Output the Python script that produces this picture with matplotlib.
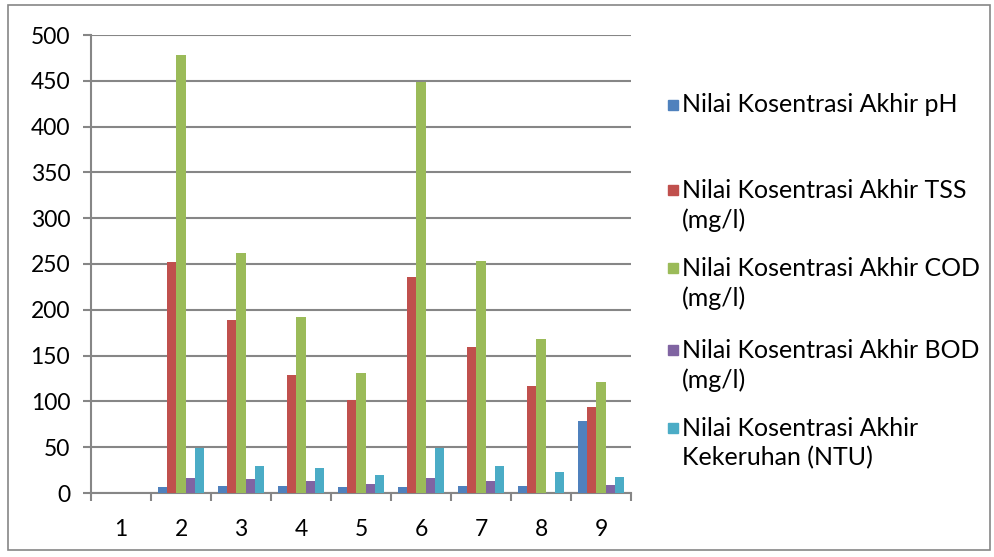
import numpy as np
import matplotlib.pyplot as plt
from matplotlib.patches import Rectangle

plt.rcParams['font.family'] = ['Lato', 'DejaVu Sans']

# Data
categories = ['1', '2', '3', '4', '5', '6', '7', '8', '9']
ph = [0, 7, 8, 8, 7, 7, 8, 8, 79]
tss = [0, 252, 189, 129, 102, 236, 159, 117, 94]
cod = [0, 478, 262, 192, 131, 449, 253, 168, 121]
bod = [0, 16, 15, 13, 10, 16, 13, 0, 9]
ntu = [0, 49, 30, 27, 20, 49, 29, 23, 18]

series = [ph, tss, cod, bod, ntu]
labels = [
    'Nilai Kosentrasi Akhir pH',
    'Nilai Kosentrasi Akhir TSS\n(mg/l)',
    'Nilai Kosentrasi Akhir COD\n(mg/l)',
    'Nilai Kosentrasi Akhir BOD\n(mg/l)',
    'Nilai Kosentrasi Akhir\nKekeruhan (NTU)',
]
colors = ['#4F81BD', '#C0504D', '#9BBB59', '#8064A2', '#4BACC6']

W, H = 994, 557
fig = plt.figure(figsize=(W / 100, H / 100), dpi=100)
ax = fig.add_axes([91 / W, (H - 493) / H, (631 - 91) / W, (493 - 35) / H])

x = np.arange(len(categories))
bw = 0.155
for i, (vals, c) in enumerate(zip(series, colors)):
    ax.bar(x + (i - 2) * bw, vals, bw, color=c, zorder=3)

grid_c = '#868686'
ax.set_xlim(-0.5, len(categories) - 0.5)
ax.set_ylim(0, 500)
ax.set_yticks(np.arange(0, 501, 50))
ax.yaxis.grid(True, color=grid_c, linewidth=1.5, zorder=0)

ax.set_xticks(np.arange(-0.5, len(categories), 1))
ax.set_xticklabels([])
ax.set_xticks(x, minor=True)
ax.set_xticklabels(categories, minor=True)
ax.tick_params(axis='x', which='major', length=6, width=1.5, color=grid_c, direction='out')
ax.tick_params(axis='x', which='minor', length=0, pad=19, labelsize=16.5)
ax.tick_params(axis='y', length=6, width=1.5, color=grid_c, pad=9, labelsize=16.5)

for s in ['top', 'right']:
    ax.spines[s].set_visible(False)
for s in ['left', 'bottom']:
    ax.spines[s].set_color(grid_c)
    ax.spines[s].set_linewidth(1.5)

# legend drawn by hand to keep Excel's uneven spacing
leg_y = [105, 190, 268, 350, 428]
for lab, c, yy in zip(labels, colors, leg_y):
    fig.add_artist(Rectangle((668 / W, (H - yy - 5) / H), 10 / W, 10 / H,
                             transform=fig.transFigure, color=c))
    for k, line in enumerate(lab.split('\n')):
        fig.text(682 / W, (H - yy - 30 * k) / H, line, fontsize=18,
                 va='center', ha='left')

# outer chart border
fig.add_artist(Rectangle((8 / W, (H - 550) / H), (990 - 8) / W, (550 - 5) / H,
                         transform=fig.transFigure, fill=False,
                         edgecolor=grid_c, linewidth=1.2))

fig.savefig('out.png', dpi=100)
